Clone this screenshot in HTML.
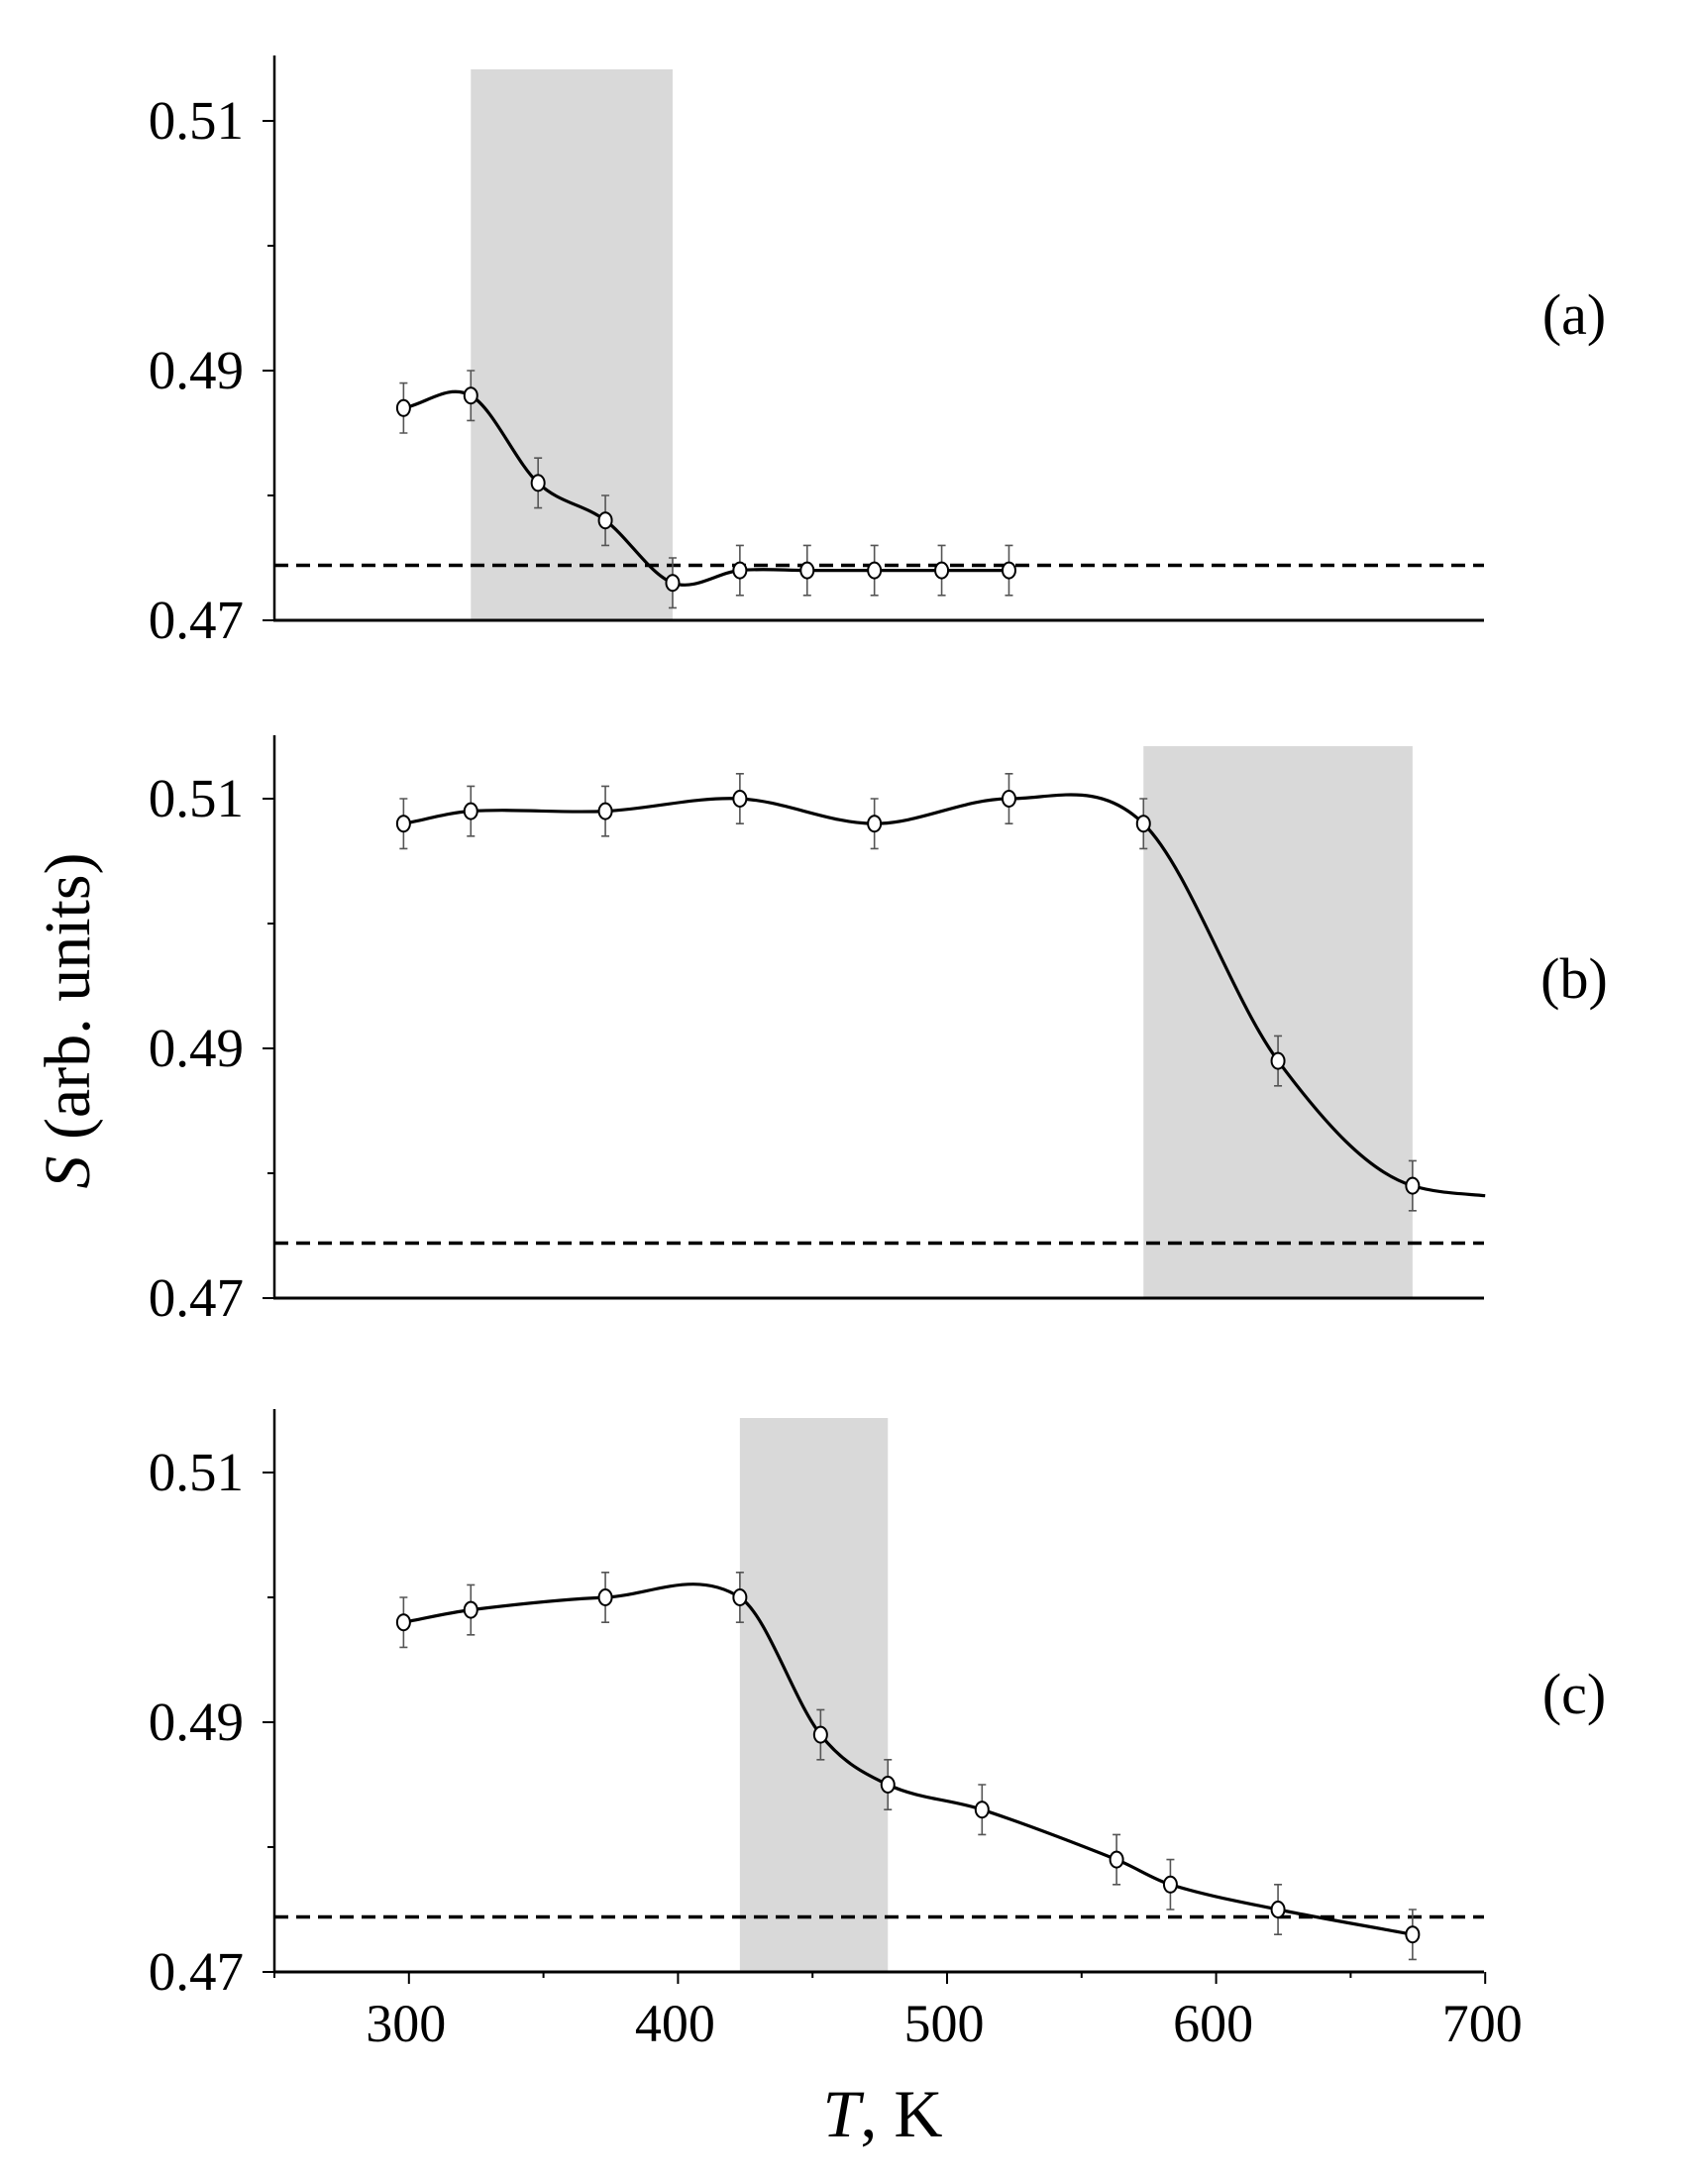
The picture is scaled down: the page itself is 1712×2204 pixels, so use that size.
<!DOCTYPE html>
<html><head><meta charset="utf-8"><style>
body{margin:0;background:#fff}
svg{display:block}
text{font-family:"Liberation Serif",serif;fill:#000}
</style></head><body>
<svg id="chart" width="1712" height="2204" viewBox="0 0 1712 2204" xmlns="http://www.w3.org/2000/svg">
<text transform="translate(90,1030) rotate(-90)" text-anchor="middle" font-size="66"><tspan font-style="italic">S</tspan> (arb. units)</text>
<text x="891" y="2156" text-anchor="middle" font-size="68"><tspan font-style="italic">T</tspan>, K</text>
</svg>
<script>
const xTicks=[300,400,500,600,700];
const yTicks=[0.47,0.49,0.51];
const yMinor=[0.48,0.50];
const refLevel=0.4744;
const aT=[298,323,348,373,398,423,448,473,498,523];
const aS=[0.487,0.488,0.481,0.478,0.473,0.474,0.474,0.474,0.474,0.474];
const bT=[298,323,373,423,473,523,573,623,673];
const bS=[0.508,0.509,0.509,0.510,0.508,0.510,0.508,0.489,0.479];
const bTail=[700,0.4782];
const cT=[298,323,373,423,453,478,513,563,583,623,673];
const cS=[0.498,0.499,0.500,0.500,0.489,0.485,0.483,0.479,0.477,0.475,0.473];
const errS=0.002;
const shadeA=[323,398], shadeB=[573,673], shadeC=[423,478];
const labels=["(a)","(b)","(c)"];

const NS="http://www.w3.org/2000/svg";
const svg=document.getElementById('chart');
function mk(tag,attrs,parent){const e=document.createElementNS(NS,tag);for(const k in attrs)e.setAttribute(k,attrs[k]);(parent||svg).appendChild(e);return e;}
const X=T=>277+(T-250)*2.716;
const panels=[
 {top:56,y51:122,y47:626,T:aT,S:aS,shade:shadeA,extra:null,label:337,xlab:false,sTop:70},
 {top:742,y51:806,y47:1310,T:bT,S:bS,shade:shadeB,extra:bTail,label:1007,xlab:false,sTop:753},
 {top:1422,y51:1486,y47:1990,T:cT,S:cS,shade:shadeC,extra:null,label:1729,xlab:true,sTop:1431}
];
function hermite(pts,flatEnd){const n=pts.length,t=[];
 for(let i=0;i<n;i++){const a=pts[Math.max(i-1,0)],b=pts[Math.min(i+1,n-1)];t[i]=(b[1]-a[1])/(b[0]-a[0]);}
 if(flatEnd){t[n-2]=(pts[n-1][1]-pts[n-2][1])/(pts[n-1][0]-pts[n-2][0])*2.2;t[n-1]=t[n-2]*0.3;}
 let d=`M${pts[0][0]},${pts[0][1]}`;
 for(let i=0;i<n-1;i++){const h=(pts[i+1][0]-pts[i][0])/3;d+=` C${pts[i][0]+h},${pts[i][1]+t[i]*h} ${pts[i+1][0]-h},${pts[i+1][1]-t[i+1]*h} ${pts[i+1][0]},${pts[i+1][1]}`;}
 return d;}
panels.forEach((p,pi)=>{
 const Y=s=>p.y47+(s-0.47)*(p.y51-p.y47)/0.04;
 const g=mk('g',{});
 
 
 const sh=mk('rect',{x:X(p.shade[0]),y:p.sTop,width:X(p.shade[1])-X(p.shade[0]),height:p.y47-p.sTop,fill:'#d9d9d9'},g);
 
 
 const ya=mk('line',{x1:277,y1:p.top,x2:277,y2:p.y47,stroke:'#000','stroke-width':2.5},g);
 
 
 const xa=mk('line',{x1:276,y1:p.y47,x2:1498,y2:p.y47,stroke:'#000','stroke-width':3},g);
 
 
 yTicks.forEach(v=>{mk('line',{x1:265,y1:Y(v),x2:277,y2:Y(v),stroke:'#000','stroke-width':2},g);
  const t=mk('text',{x:246,y:Y(v)+18,'text-anchor':'end','font-size':55},g);t.textContent=v.toFixed(2);
  
  });
 yMinor.forEach(v=>mk('line',{x1:270,y1:Y(v),x2:277,y2:Y(v),stroke:'#000','stroke-width':2},g));
 const dl=mk('line',{x1:277,y1:Y(refLevel),x2:1498,y2:Y(refLevel),stroke:'#000','stroke-width':3.5,'stroke-dasharray':'14,8'},g);
 
 
 if(p.xlab){for(let T=250;T<=700;T+=50){mk('line',{x1:X(T),y1:p.y47,x2:X(T),y2:p.y47+(T%100?6:12),stroke:'#000','stroke-width':2},g);}
  xTicks.forEach(T=>{const t=mk('text',{x:X(T)-3,y:2060,'text-anchor':'middle','font-size':54},g);t.textContent=T;
   
   });}
 const pts=p.T.map((T,i)=>[X(T),Y(p.S[i])]);
 if(p.extra)pts.push([X(p.extra[0]),Y(p.extra[1])]);
 const c=mk('path',{d:hermite(pts,!!p.extra),fill:'none',stroke:'#000','stroke-width':3.2},g);
 
 
 p.T.forEach((T,i)=>{const x=X(T),y=Y(p.S[i]),y1=Y(p.S[i]+errS),y2=Y(p.S[i]-errS);
  mk('path',{d:`M${x},${y1}V${y2}M${x-4},${y1}H${x+4}M${x-4},${y2}H${x+4}`,stroke:'#555','stroke-width':1.6,fill:'none'},g);
  const m=mk('ellipse',{cx:x,cy:y,rx:6.5,ry:8,fill:'#fff',stroke:'#000','stroke-width':2},g);
  
  });
 const l=mk('text',{x:1589,y:p.label,'text-anchor':'middle','font-size':58},g);l.textContent=labels[pi];
 
 
});
</script>
</body></html>
